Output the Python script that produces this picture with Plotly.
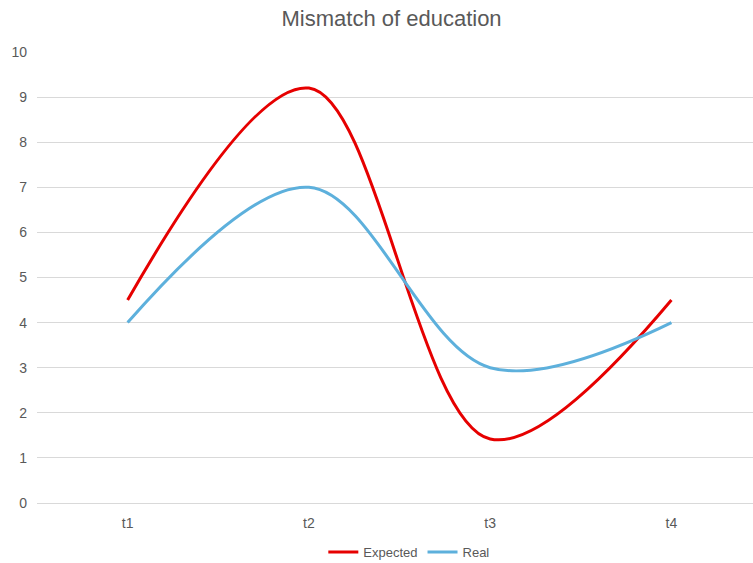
import plotly.graph_objects as go

periods = ["t1", "t2", "t3", "t4"]
expected = [4.5, 9.2, 1.42, 4.5]
real = [4, 7, 3, 4]
y_ticks = list(range(0, 11))

xs = list(range(len(periods)))

fig = go.Figure()
fig.add_trace(go.Scatter(
    x=xs, y=expected, name="Expected", mode="lines",
    line=dict(color="#E60000", width=3, shape="spline", smoothing=1.0),
))
fig.add_trace(go.Scatter(
    x=xs, y=real, name="Real", mode="lines",
    line=dict(color="#5DB0DC", width=3, shape="spline", smoothing=1.0),
))

fig.update_layout(
    width=753, height=563,
    margin=dict(l=37, r=0, t=52, b=60, autoexpand=False),
    paper_bgcolor="white", plot_bgcolor="white",
    font=dict(family="Liberation Sans, Arial, sans-serif", color="#595959", size=14),
    title=dict(text="Mismatch of education", x=0.52, xanchor="center",
               y=1 - 18 / 563, yanchor="middle",
               font=dict(size=22, color="#595959")),
    showlegend=True,
    legend=dict(orientation="h", x=0.52, xanchor="center",
                y=-(552 - 503) / 451, yanchor="middle",
                font=dict(size=13, color="#595959"), itemwidth=30,
                tracegroupgap=0),
)
fig.update_xaxes(
    tickmode="array", tickvals=xs, ticktext=periods,
    range=[-0.5, 3.45], showgrid=False, zeroline=False, showline=False,
    ticks="", ticklabelstandoff=10,
)
fig.update_yaxes(
    range=[0, 10], tickvals=y_ticks, showgrid=True, gridcolor="#D9D9D9", gridwidth=1,
    zeroline=True, zerolinecolor="#D9D9D9", zerolinewidth=1,
    showline=False, ticks="", ticklabelstandoff=9,
)

fig.write_html("out.html")
